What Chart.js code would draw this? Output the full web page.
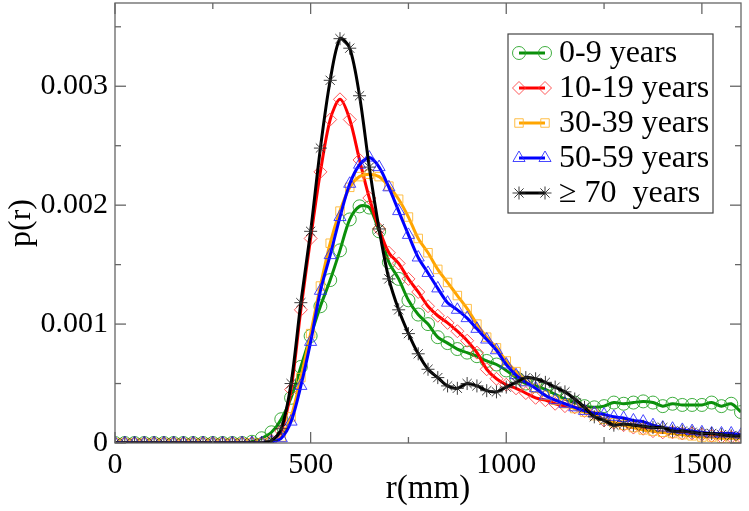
<html>
<head>
<script src="https://cdn.jsdelivr.net/npm/chart.js@4.4.1/dist/chart.umd.min.js"></script>
<style>
  body { margin: 0; background: #fff; }
  #wrap { width: 749px; height: 511px; }
</style>
</head>
<body>
<div id="wrap"><canvas id="canvas" width="749" height="511"></canvas></div>
<script>
// r (mm) grid of the histogram
var rValues = [0, 25, 50, 75, 100, 125, 150, 175, 200, 225, 250, 275, 300, 325, 350, 375,
  400, 425, 450, 475, 500, 525, 550, 575, 600, 625, 650, 675, 700, 725, 750, 775,
  800, 825, 850, 875, 900, 925, 950, 975, 1000, 1025, 1050, 1075, 1100, 1125, 1150, 1175,
  1200, 1225, 1250, 1275, 1300, 1325, 1350, 1375, 1400, 1425, 1450, 1475, 1500, 1525, 1550, 1575, 1600];

var labels = ['0-9 years', '10-19 years', '30-39 years', '50-59 years', '\u2265 70  years'];

var p0to9 = [0, 0, 0, 0, 0, 0, 0, 0, 0, 0, 0, 0, 0, 0, 0.00001, 0.00004,
  0.00009, 0.0002, 0.00038, 0.00064, 0.0009, 0.00115, 0.00137, 0.00162, 0.00188, 0.00199, 0.00198, 0.00178, 0.00152, 0.00138, 0.0012, 0.00108,
  0.001, 0.00089, 0.00084, 0.00079, 0.00076, 0.00073, 0.00069, 0.00066, 0.00061, 0.00055, 0.0005, 0.00048, 0.00045, 0.00041, 0.00037, 0.00034,
  0.00031, 0.0003, 0.00031, 0.00034, 0.00033, 0.00034, 0.00035, 0.00034, 0.00031, 0.00033, 0.00032, 0.00032, 0.00032, 0.00034, 0.00031, 0.00033, 0.00026];

var p10to19 = [0, 0, 0, 0, 0, 0, 0, 0, 0, 0, 0, 0, 0, 0, 0, 0,
  0.00002, 0.0001, 0.00045, 0.00112, 0.00172, 0.00228, 0.00272, 0.00289, 0.00272, 0.00238, 0.00206, 0.0018, 0.0016, 0.00151, 0.00138, 0.00127,
  0.00115, 0.00107, 0.00101, 0.00094, 0.00086, 0.00076, 0.00062, 0.00054, 0.00049, 0.00046, 0.00042, 0.00038, 0.00036, 0.00033, 0.00031, 0.0003,
  0.00027, 0.00025, 0.00019, 0.00017, 0.00015, 0.00013, 0.00012, 0.0001, 0.00009, 0.00009, 0.00008, 0.00008, 0.00007, 0.00006, 0.00005, 0.00005, 0.00005];

var p30to39 = [0, 0, 0, 0, 0, 0, 0, 0, 0, 0, 0, 0, 0, 0, 0, 0,
  0.00001, 0.00005, 0.00022, 0.00055, 0.00092, 0.00132, 0.00168, 0.00195, 0.00215, 0.00224, 0.00226, 0.00224, 0.00216, 0.00205, 0.0019, 0.00172,
  0.0016, 0.00146, 0.00135, 0.00124, 0.00113, 0.001, 0.00089, 0.0008, 0.00069, 0.0006, 0.00052, 0.00046, 0.0004, 0.00036, 0.00033, 0.00029,
  0.00026, 0.00023, 0.0002, 0.00017, 0.00015, 0.00013, 0.00011, 0.0001, 0.00009, 0.00008, 0.00007, 0.00006, 0.00005, 0.00005, 0.00004, 0.00004, 0.00004];

var p50to59 = [0, 0, 0, 0, 0, 0, 0, 0, 0, 0, 0, 0, 0, 0, 0, 0,
  0.00001, 0.00004, 0.00018, 0.00048, 0.00085, 0.00128, 0.00158, 0.0019, 0.00218, 0.00234, 0.0024, 0.00232, 0.00215, 0.00195, 0.00175, 0.00156,
  0.00143, 0.0013, 0.00118, 0.00112, 0.00105, 0.00096, 0.00087, 0.00078, 0.00066, 0.00057, 0.00051, 0.00046, 0.0004, 0.00036, 0.00033, 0.0003,
  0.00027, 0.00025, 0.00024, 0.00022, 0.00021, 0.00019, 0.00018, 0.00015, 0.00013, 0.00012, 0.00011, 0.0001, 0.00009, 0.00008, 0.00008, 0.00008, 0.00007];

var p70plus = [0, 0, 0, 0, 0, 0, 0, 0, 0, 0, 0, 0, 0, 0, 0, 0,
  0.00002, 0.00012, 0.0005, 0.00118, 0.00178, 0.00248, 0.00305, 0.0034, 0.00332, 0.00292, 0.00232, 0.0018, 0.00138, 0.00112, 0.00092, 0.00075,
  0.00062, 0.00055, 0.00048, 0.00046, 0.0005, 0.00048, 0.00044, 0.00043, 0.00047, 0.00051, 0.00055, 0.00054, 0.00051, 0.00047, 0.00043, 0.00037,
  0.0003, 0.00022, 0.00019, 0.00015, 0.00016, 0.00015, 0.00014, 0.00013, 0.00013, 0.0001, 0.0001, 0.00009, 0.00008, 0.00008, 0.00007, 0.00006, 0.00006];

var xTicks = [0, 250, 500, 750, 1000, 1250, 1500];
var xTickLabels = ['0', '', '500', '', '1000', '', '1500'];
var yTicks = [0, 0.0005, 0.001, 0.0015, 0.002, 0.0025, 0.003, 0.0035];
var yTickLabels = ['0', '', '0.001', '', '0.002', '', '0.003', ''];

var serif = '"Liberation Serif", "DejaVu Serif", serif';
var plotTop = 3; // top edge of the plot frame

function pts(vals) {
  return rValues.map(function (r, i) { return { x: r, y: vals[i] }; });
}

var styles = [
  { data: p0to9, line: '#0a8f0a', mark: 'rgba(30,160,30,0.85)', shape: 'circle', radius: 6.5 },
  { data: p10to19, line: '#ff0000', mark: 'rgba(255,60,60,0.85)', shape: 'rectRot', radius: 6.5 },
  { data: p30to39, line: '#ffa500', mark: 'rgba(255,180,40,0.85)', shape: 'rect', radius: 6 },
  { data: p50to59, line: '#0000ff', mark: 'rgba(40,40,255,0.85)', shape: 'triangle', radius: 7 },
  { data: p70plus, line: '#000000', mark: 'rgba(40,40,40,0.9)', shape: 'star', radius: 6.5 }
];

var datasets = styles.map(function (s, i) {
  return {
    label: labels[i],
    data: pts(s.data),
    borderColor: s.line,
    borderWidth: 3,
    tension: 0.3,
    pointStyle: s.shape,
    pointRadius: s.radius,
    pointBorderWidth: 1,
    pointBorderColor: s.mark,
    pointBackgroundColor: 'rgba(0,0,0,0)',
    order: styles.length - i
  };
});

function line(ctx, x1, y1, x2, y2) {
  ctx.beginPath(); ctx.moveTo(x1, y1); ctx.lineTo(x2, y2); ctx.stroke();
}

// pull the plot area up to the top edge, the layout leaves a gap there
var fixTop = {
  id: 'fixTop',
  afterLayout: function (chart) {
    var y = chart.scales.y, a = chart.chartArea;
    a.top = plotTop;
    a.height = a.bottom - a.top;
    y.top = plotTop;
    y.height = y.bottom - y.top;
    y.configure();
  }
};

// frame with inward ticks on all four sides
var frameTicks = {
  id: 'frameTicks',
  afterDatasetsDraw: function (chart) {
    var ctx = chart.ctx, a = chart.chartArea, x = chart.scales.x, y = chart.scales.y;
    ctx.save();
    ctx.strokeStyle = '#666';
    ctx.lineWidth = 1.3;
    xTicks.forEach(function (v, i) {
      var px = x.getPixelForValue(v), len = xTickLabels[i] ? 11 : 6;
      line(ctx, px, a.bottom, px, a.bottom - len);
      line(ctx, px, a.top, px, a.top + len);
    });
    yTicks.forEach(function (v, i) {
      var py = y.getPixelForValue(v), len = yTickLabels[i] ? 11 : 6;
      line(ctx, a.left, py, a.left + len, py);
      line(ctx, a.right, py, a.right - len, py);
    });
    ctx.strokeRect(a.left, a.top, a.right - a.left, a.bottom - a.top);
    ctx.restore();
  }
};

// legend box: line with a marker at each end, like the original
var boxLegend = {
  id: 'boxLegend',
  afterDraw: function (chart) {
    var ctx = chart.ctx, a = chart.chartArea;
    var bx = a.right - 233, by = a.top + 31, bw = 205, bh = 179;
    ctx.save();
    ctx.fillStyle = '#fff';
    ctx.fillRect(bx, by, bw, bh);
    ctx.strokeStyle = '#444';
    ctx.lineWidth = 1.2;
    ctx.strokeRect(bx, by, bw, bh);
    ctx.font = '32px ' + serif;
    ctx.textBaseline = 'middle';
    chart.data.datasets.forEach(function (ds, i) {
      var cy = by + 19 + i * 35;
      var x1 = bx + 11, x2 = bx + 37;
      ctx.strokeStyle = ds.borderColor;
      ctx.lineWidth = 3;
      line(ctx, x1, cy, x2, cy);
      ctx.strokeStyle = ds.pointBorderColor;
      ctx.fillStyle = 'rgba(0,0,0,0)';
      ctx.lineWidth = 1;
      [x1, x2].forEach(function (px) {
        Chart.helpers.drawPoint(ctx, { pointStyle: ds.pointStyle, radius: ds.pointRadius, borderWidth: 1, rotation: 0 }, px, cy);
      });
      ctx.fillStyle = '#000';
      ctx.fillText(ds.label, bx + 51, cy + 1);
    });
    ctx.restore();
  }
};

var ctx = document.getElementById('canvas').getContext('2d');
var chart = new Chart(ctx, {
  type: 'line',
  data: { datasets: datasets },
  options: {
    responsive: false,
    animation: false,
    layout: { padding: { top: 3, right: 4, left: 0, bottom: 0 } },
    plugins: { legend: { display: false }, tooltip: { enabled: false } },
    scales: {
      x: {
        type: 'linear',
        min: 0,
        max: 1600,
        grid: { display: false, drawTicks: false, tickLength: 0 },
        border: { display: false },
        afterBuildTicks: function (s) { s.ticks = xTicks.map(function (v) { return { value: v }; }); },
        afterFit: function (s) { s.height = 68; },
        ticks: {
          autoSkip: false,
          maxRotation: 0,
          padding: 4,
          color: '#000',
          font: { family: serif, size: 30 },
          callback: function (v) { return xTickLabels[xTicks.indexOf(v)]; }
        },
        title: { display: true, text: 'r(mm)', color: '#000', font: { family: serif, size: 33 }, padding: { top: 0, bottom: 2 } }
      },
      y: {
        min: 0,
        max: 0.0037,
        grid: { display: false, drawTicks: false, tickLength: 0 },
        border: { display: false },
        afterBuildTicks: function (s) { s.ticks = yTicks.map(function (v) { return { value: v }; }); },
        afterFit: function (s) { s.width = 115; },
        ticks: {
          autoSkip: false,
          padding: 7,
          color: '#000',
          font: { family: serif, size: 30 },
          callback: function (v) { return yTickLabels[yTicks.indexOf(v)]; }
        },
        title: { display: true, text: 'p(r)', color: '#000', font: { family: serif, size: 32 }, padding: { top: 2, bottom: 0 } }
      }
    }
  },
  plugins: [fixTop, frameTicks, boxLegend]
});
</script>
</body>
</html>
